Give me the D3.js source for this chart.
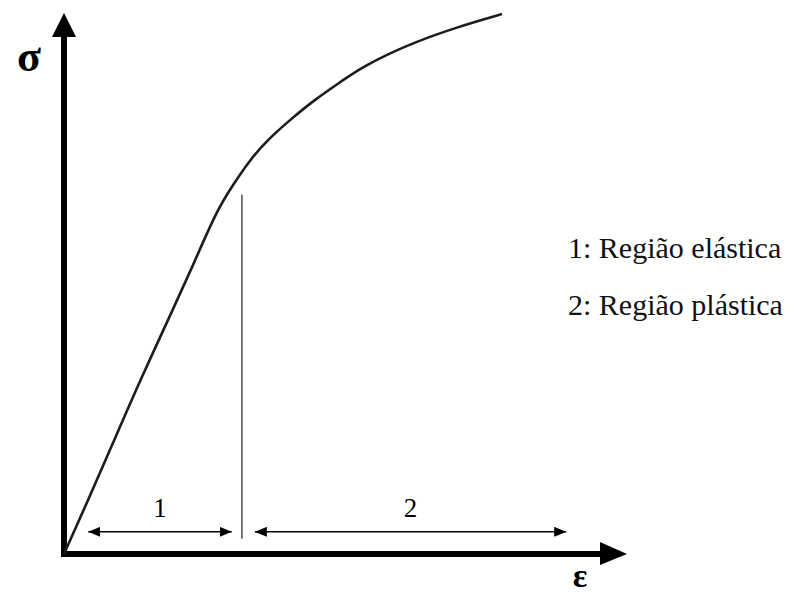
<!DOCTYPE html>
<html>
<head>
<meta charset="utf-8">
<script src="https://cdn.jsdelivr.net/npm/d3@7"></script>
<style>
  body { margin: 0; background: #fff; }
  svg { display: block; }
</style>
</head>
<body>
<script>
var width = 787, height = 595

// stress-strain curve (arbitrary units 0..100)
var strain = [0, 4.3, 8.7, 13.3, 20.1, 23.3, 27.2, 30.0, 33.0, 36.1, 40.1, 44.4, 49.6, 52.9, 60.9, 69.8, 77.8]
var stress = [0, 10.0, 20.5, 31.6, 46.9, 54.3, 63.6, 68.2, 72.8, 76.5, 80.2, 83.9, 87.6, 90.0, 94.1, 97.4, 99.8]

// elastic limit marker
var yieldStrain = 31.6
var yieldTop = 66.4

// region arrows under the curve
var regionLabels = ["1", "2"]
var regionStart = [4.3, 33.9]
var regionEnd = [29.8, 89.2]

var legendItems = ["1: Região elástica", "2: Região plástica"]

var x = d3.scaleLinear().domain([0, 100]).range([64, 627])
var y = d3.scaleLinear().domain([0, 100]).range([554, 13])

var svg = d3.select("body").append("svg")
    .attr("width", width)
    .attr("height", height)

svg.append("defs").append("marker")
    .attr("id", "head")
    .attr("viewBox", "0 0 12 10")
    .attr("refX", 12).attr("refY", 5)
    .attr("markerWidth", 12).attr("markerHeight", 10)
    .attr("markerUnits", "userSpaceOnUse")
    .attr("orient", "auto-start-reverse")
  .append("path")
    .attr("d", "M0,0L12,5L0,10Z")
    .attr("fill", "#000")

// axes
svg.append("line")
    .attr("x1", x(0)).attr("y1", y(0) + 3)
    .attr("x2", x(0)).attr("y2", y(96))
    .attr("stroke", "#000").attr("stroke-width", 6)
svg.append("path")
    .attr("d", "M" + (x(0) - 12) + "," + (y(100) + 24) + "L" + x(0) + "," + y(100) + "L" + (x(0) + 12) + "," + (y(100) + 24) + "Z")
    .attr("fill", "#000")

svg.append("line")
    .attr("x1", x(0) - 3).attr("y1", y(0))
    .attr("x2", x(96)).attr("y2", y(0))
    .attr("stroke", "#000").attr("stroke-width", 6)
svg.append("path")
    .attr("d", "M" + (x(100) - 27) + "," + (y(0) - 12) + "L" + x(100) + "," + y(0) + "L" + (x(100) - 27) + "," + (y(0) + 11) + "Z")
    .attr("fill", "#000")

svg.append("text")
    .attr("x", 29).attr("y", 71)
    .attr("text-anchor", "middle")
    .style("font", "bold 44px 'Liberation Serif', serif")
    .text("σ")

svg.append("text")
    .attr("x", 580).attr("y", 587)
    .attr("text-anchor", "middle")
    .style("font", "bold 34px 'Liberation Serif', serif")
    .text("ε")

// the curve
var line = d3.line()
    .x(function(d, i) { return x(strain[i]) })
    .y(function(d, i) { return y(stress[i]) })
    .curve(d3.curveBasis)

svg.append("path")
    .datum(strain)
    .attr("d", line)
    .attr("fill", "none")
    .attr("stroke", "#1c1c1c")
    .attr("stroke-width", 2.6)

// elastic limit
svg.append("line")
    .attr("x1", x(yieldStrain)).attr("y1", y(yieldTop))
    .attr("x2", x(yieldStrain)).attr("y2", y(2.8))
    .attr("stroke", "#555").attr("stroke-width", 1.6)

// region arrows + numbers
var regions = svg.append("g").selectAll("g")
    .data(regionLabels)
    .enter().append("g")

regions.append("line")
    .attr("x1", function(d, i) { return x(regionStart[i]) })
    .attr("x2", function(d, i) { return x(regionEnd[i]) })
    .attr("y1", y(4.1)).attr("y2", y(4.1))
    .attr("stroke", "#000").attr("stroke-width", 1.5)
    .attr("marker-start", "url(#head)")
    .attr("marker-end", "url(#head)")

regions.append("text")
    .attr("x", function(d, i) { return x((regionStart[i] + regionEnd[i]) / 2) })
    .attr("y", 517)
    .attr("text-anchor", "middle")
    .style("font", "27px 'Liberation Serif', serif")
    .text(function(d) { return d })

// legend
svg.append("g").selectAll("text")
    .data(legendItems)
    .enter().append("text")
    .attr("x", 568)
    .attr("y", function(d, i) { return 258 + i * 57 })
    .style("font", "30px 'Liberation Serif', serif")
    .attr("fill", "#111")
    .text(function(d) { return d })
</script>
</body>
</html>
